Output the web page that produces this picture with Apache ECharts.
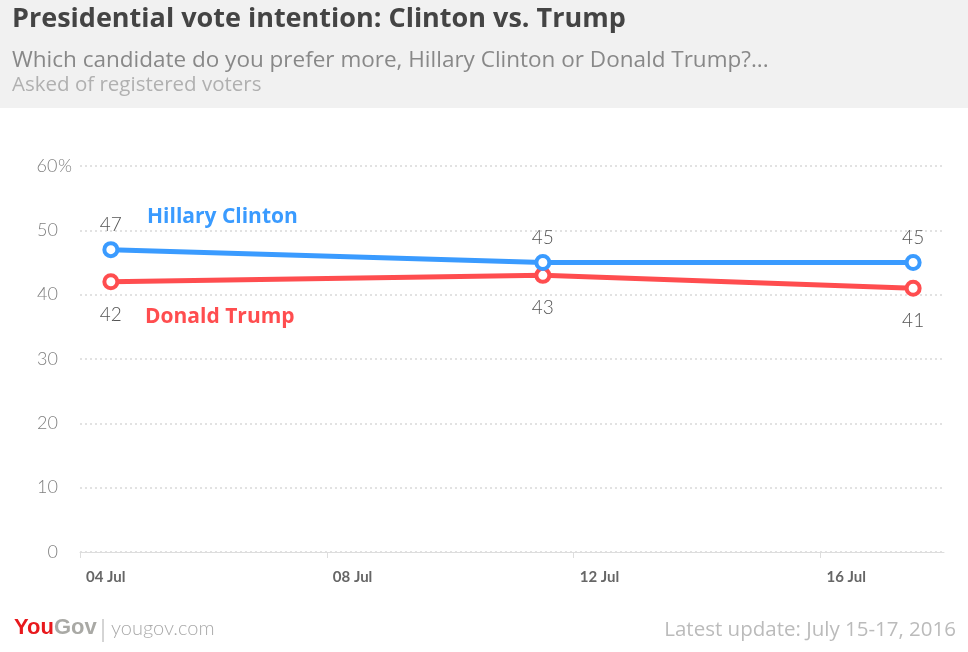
<!DOCTYPE html>
<html><head><meta charset="utf-8">
<script src="https://cdn.jsdelivr.net/npm/echarts@6/dist/echarts.min.js"></script>
<style>html,body{margin:0;padding:0;background:#fff}#c{width:968px;height:652px}</style>
</head><body><div id="c"></div>
<script>
// Data (x = day of July 2016, midpoint of fieldwork)
const dates = [4.5, 11.5, 17.5];
const clinton = [47, 45, 45];
const trump = [42, 43, 41];
const yTicks = [0, 10, 20, 30, 40, 50, 60];
const xTicks = [4, 8, 12, 16];
const seriesNames = ['Hillary Clinton', 'Donald Trump'];

const BLUE = '#3a9bff', RED = '#ff4d4f';
const FONT = 'Lato';
const HFONT = '"Open Sans"';
const chart = echarts.init(document.getElementById('c'), null, {renderer: 'canvas'});
const pad = d => (d < 10 ? '0' : '') + d;
const yStyle = {color: '#808080', fontFamily: FONT, fontSize: 18, fontWeight: 300};
chart.setOption({
  backgroundColor: '#fff',
  animation: false,
  grid: {left: 80, right: 24, top: 166, bottom: 100},
  xAxis: {
    type: 'value', min: 4, max: 18, interval: 4,
    axisLine: {show: true, lineStyle: {color: '#dddddd', width: 1}},
    axisTick: {show: true, length: 6, lineStyle: {color: '#dddddd'}},
    splitLine: {show: false},
    axisLabel: {
      showMaxLabel: false,
      formatter: v => xTicks.includes(v) ? pad(v) + ' Jul' : '',
      align: 'left', padding: [0, 0, 0, 6], margin: 18,
      color: '#666', fontFamily: FONT, fontWeight: 'bold', fontSize: 15
    }
  },
  yAxis: {
    type: 'value', min: 0, max: 60, interval: 10,
    axisLine: {show: false}, axisTick: {show: false},
    splitLine: {show: true, lineStyle: {color: '#e2e2e2', type: [2, 3], width: 2}},
    axisLabel: {
      margin: 44, align: 'left',
      formatter: v => yTicks.includes(v) ? (v === 60 ? '{n|60}{p|%}' : '{n|' + v + '}') : '',
      rich: {
        n: Object.assign({width: 22, align: 'right'}, yStyle),
        p: Object.assign({align: 'left'}, yStyle)
      }
    }
  },
  series: [
    {
      name: seriesNames[0], type: 'line',
      data: dates.map((d, i) => [d, clinton[i]]),
      color: BLUE, lineStyle: {width: 5, color: BLUE},
      symbol: 'circle', symbolSize: 13,
      itemStyle: {color: '#fff', borderColor: BLUE, borderWidth: 4},
      label: {show: true, position: 'top', distance: 7, color: '#555', fontFamily: FONT, fontSize: 19, fontWeight: 300},
      z: 3
    },
    {
      name: seriesNames[1], type: 'line',
      data: dates.map((d, i) => [d, trump[i]]),
      color: RED, lineStyle: {width: 5, color: RED},
      symbol: 'circle', symbolSize: 13,
      itemStyle: {color: '#fff', borderColor: RED, borderWidth: 4},
      label: {show: true, position: 'bottom', distance: 15, color: '#555', fontFamily: FONT, fontSize: 19, fontWeight: 300},
      z: 2
    }
  ],
  graphic: [
    {type: 'rect', left: 0, top: 0, shape: {width: 968, height: 108}, style: {fill: '#f1f1f1'}, z: -10},
    {type: 'text', left: 12, top: 6, style: {text: 'Presidential vote intention: Clinton vs. Trump', fill: '#444', font: 'bold 27px ' + HFONT}},
    {type: 'text', left: 12, top: 49, style: {text: 'Which candidate do you prefer more, Hillary Clinton or Donald Trump?...', fill: '#888', font: '22.5px ' + HFONT}},
    {type: 'text', left: 12, top: 75, style: {text: 'Asked of registered voters', fill: '#b0b0b0', font: '20.5px ' + HFONT}},
    {type: 'text', left: 147, top: 207, style: {text: seriesNames[0], fill: BLUE, font: 'bold 21px ' + HFONT}},
    {type: 'text', left: 145, top: 307, style: {text: seriesNames[1], fill: RED, font: 'bold 21px ' + HFONT}},
    {type: 'text', left: 14, top: 617, style: {rich: {a: {fill: '#e8191d', font: 'bold 22px Liberation Sans'}, b: {fill: '#a9a9a5', font: 'bold 22px Liberation Sans'}}, text: '{a|You}{b|Gov}'}},
    {type: 'line', shape: {x1: 103, y1: 619, x2: 103, y2: 642}, style: {stroke: '#aaa', lineWidth: 1}},
    {type: 'text', left: 111, top: 619, style: {text: 'yougov.com', fill: '#aaa', font: '300 20px ' + FONT}},
    {type: 'text', right: 12, top: 620, style: {text: 'Latest update: July 15-17, 2016', fill: '#bbb', font: '20.5px ' + HFONT, align: 'right'}}
  ]
});
</script></body></html>
